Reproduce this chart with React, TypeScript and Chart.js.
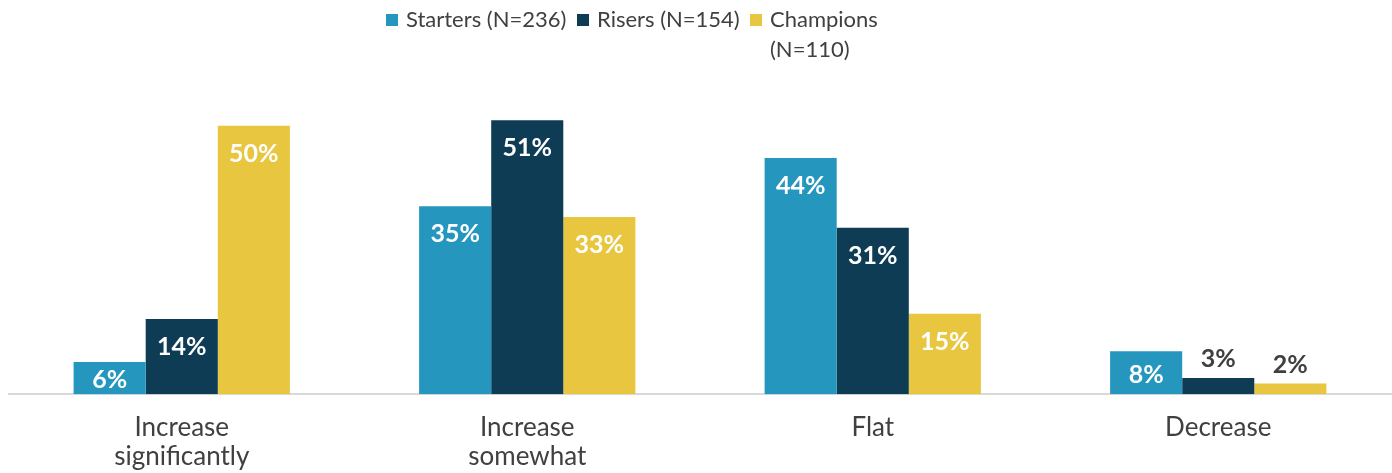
import React, { useEffect, useRef } from "react";
import { Chart, registerables } from "chart.js";

Chart.register(...registerables);

const categories: string[][] = [
  ["Increase", "significantly"],
  ["Increase", "somewhat"],
  ["Flat"],
  ["Decrease"],
];
const seriesNames = ["Starters (N=236)", "Risers (N=154)", "Champions (N=110)"];
const starters = [6, 35, 44, 8];
const risers = [14, 51, 31, 3];
const champions = [50, 33, 15, 2];
const colors = ["#2596BE", "#0F3C55", "#E8C63F"];

const FONT = "Lato, 'Noto Sans', sans-serif";

const labelPlugin = {
  id: "barLabels",
  afterDatasetsDraw(chart: any) {
    const ctx = chart.ctx;
    ctx.save();
    ctx.font = `bold 25px ${FONT}`;
    ctx.textAlign = "center";
    ctx.textBaseline = "middle";
    chart.data.datasets.forEach((ds: any, di: number) => {
      const meta = chart.getDatasetMeta(di);
      meta.data.forEach((bar: any, i: number) => {
        const v = ds.data[i];
        const h = bar.base - bar.y;
        let y;
        if (h < 28) {
          ctx.fillStyle = "#404040";
          y = bar.y - 19;
        } else {
          ctx.fillStyle = "#FFFFFF";
          y = bar.y + Math.min(28, h / 2 + 2);
        }
        ctx.fillText(`${v}%`, bar.x, y);
      });
    });
    ctx.restore();
  },
};

export default function App() {
  const ref = useRef<HTMLCanvasElement>(null);
  useEffect(() => {
    const chart = new Chart(ref.current!, {
      type: "bar",
      data: {
        labels: categories,
        datasets: [
          { label: seriesNames[0], data: starters, backgroundColor: colors[0] },
          { label: seriesNames[1], data: risers, backgroundColor: colors[1] },
          { label: seriesNames[2], data: champions, backgroundColor: colors[2] },
        ],
      },
      options: {
        animation: false,
        responsive: false,
        maintainAspectRatio: false,
        layout: { padding: { top: 72, left: 9, right: 1, bottom: 0 } },
        datasets: {
          bar: { categoryPercentage: 0.626, barPercentage: 1.0 },
        },
        plugins: {
          legend: { display: false },
          tooltip: { enabled: false },
        },
        scales: {
          x: {
            grid: { display: false, drawTicks: false },
            border: { display: true, color: "#D9D9D9", width: 2 },
            ticks: {
              color: "#404040",
              font: { family: FONT, size: 26, lineHeight: 1.15 },
              padding: 18,
              autoSkip: false,
              maxRotation: 0,
            },
          },
          y: {
            display: false,
            min: 0,
            max: 60,
          },
        },
      },
      plugins: [labelPlugin],
    });
    return () => chart.destroy();
  }, []);

  const legendItem = (i: number, left: number) => (
    <div style={{ position: "absolute", left, top: 0, display: "flex", alignItems: "flex-start", whiteSpace: "nowrap" }}>
      <span
        style={{
          display: "inline-block",
          width: 12,
          height: 12,
          background: colors[i],
          marginTop: 10,
          marginRight: 8,
          flex: "none",
        }}
      />
      <span>{i === 2 ? <>Champions<br />(N=110)</> : seriesNames[i]}</span>
    </div>
  );

  return (
    <div style={{ position: "absolute", left: 0, top: 0, width: 1392, height: 473, background: "#fff", overflow: "hidden" }}>
      <canvas ref={ref} width={1392} height={490} style={{ display: "block" }} />
      <div
        style={{
          position: "absolute",
          top: 4,
          left: 0,
          width: 1392,
          height: 70,
          fontFamily: FONT,
          fontSize: 22,
          lineHeight: "30px",
          color: "#404040",
        }}
      >
        {legendItem(0, 386)}
        {legendItem(1, 577)}
        {legendItem(2, 750)}
      </div>
    </div>
  );
}
